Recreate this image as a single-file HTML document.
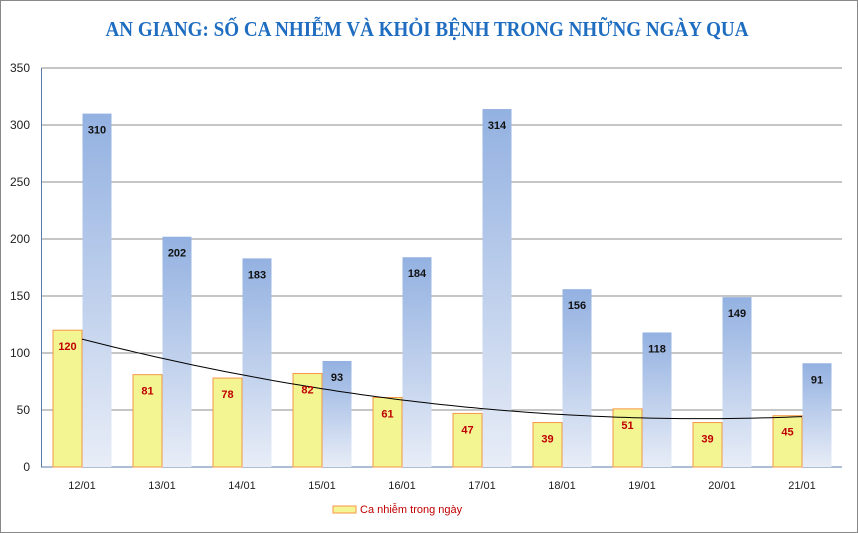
<!DOCTYPE html>
<html><head><meta charset="utf-8"><style>
body{margin:0;background:#fff;}
svg{display:block;font-family:"Liberation Sans",sans-serif;}
</style></head><body>
<svg id="c" width="858" height="533">
<defs><linearGradient id="bg" x1="0" y1="0" x2="0" y2="1"><stop offset="0" stop-color="#93b1e1"/><stop offset="1" stop-color="#e8edf7"/></linearGradient></defs>
<rect x="0.5" y="0.5" width="857" height="532" fill="#fff" stroke="#888"/>
<text x="427" y="36" text-anchor="middle" font-family="Liberation Serif,serif" font-weight="bold" font-size="21" fill="#1f6dc0" textLength="643" lengthAdjust="spacingAndGlyphs">AN GIANG: SỐ CA NHIỄM VÀ KHỎI BỆNH TRONG NHỮNG NGÀY QUA</text>
<g id="grid"></g><g id="bars"></g><g id="trend"></g><g id="labels"></g>
<g>
<rect x="333" y="506" width="23" height="7" fill="#f3f596" stroke="#f79646"/>
<text x="360" y="513" font-size="11" fill="#c00000">Ca nhiễm trong ngày</text>
</g>
</svg>
<script>
const categories=["12/01","13/01","14/01","15/01","16/01","17/01","18/01","19/01","20/01","21/01"];
const infected=[120,81,78,82,61,47,39,51,39,45];
const recovered=[310,202,183,93,184,314,156,118,149,91];
const yTicks=[0,50,100,150,200,250,300,350];
const NS="http://www.w3.org/2000/svg";
const x0=41.5,step=80,y0=467,k=399/350;
const y=v=>y0-v*k, xc=i=>x0+step*i+40.5;
function el(t,a,p){const e=document.createElementNS(NS,t);for(const q in a)e.setAttribute(q,a[q]);document.getElementById(p).appendChild(e);return e;}
yTicks.forEach(v=>{
 if(v>0){const l=el('line',{x1:x0,x2:842,y1:y(v),y2:y(v),stroke:'#8c8c8c'},'grid');
 
 }
 const t=el('text',{x:30,y:y(v)+4,'text-anchor':'end','font-size':12,fill:'#222'},'grid');t.textContent=v;
 
 
});
const ax=el('path',{d:`M${x0} 68V${y0}H842`,fill:'none',stroke:'#5a7ca8'},'grid');


categories.forEach((c,i)=>{
 const cx=xc(i);
 const b=el('rect',{x:cx+0.5,y:y(recovered[i]),width:29,height:recovered[i]*k,fill:'url(#bg)'},'bars');
 
 
 const a=el('rect',{x:cx-29,y:y(infected[i]),width:29,height:infected[i]*k,fill:'#f2f591',stroke:'#f79646'},'bars');
 
 
 const t1=el('text',{x:cx-14.5,y:y(infected[i])+20,'text-anchor':'middle','font-size':11,'font-weight':'bold',fill:'#c00000'},'labels');t1.textContent=infected[i];
 
 
 const t2=el('text',{x:cx+15,y:y(recovered[i])+20,'text-anchor':'middle','font-size':11,'font-weight':'bold',fill:'#111'},'labels');t2.textContent=recovered[i];
 
 
 const t3=el('text',{x:cx,y:489,'text-anchor':'middle','font-size':11,fill:'#222'},'labels');t3.textContent=c;
 
 
});
// quadratic trendline fit to infected
(function(){const n=infected.length;let S=[0,0,0,0,0],T=[0,0,0];
for(let i=0;i<n;i++){for(let p=0;p<5;p++)S[p]+=Math.pow(i,p);for(let p=0;p<3;p++)T[p]+=infected[i]*Math.pow(i,p);}
const M=[[S[0],S[1],S[2],T[0]],[S[1],S[2],S[3],T[1]],[S[2],S[3],S[4],T[2]]];
for(let c=0;c<3;c++){for(let r=c+1;r<3;r++){const f=M[r][c]/M[c][c];for(let j=c;j<4;j++)M[r][j]-=f*M[c][j];}}
const co=[0,0,0];for(let r=2;r>=0;r--){let s=M[r][3];for(let j=r+1;j<3;j++)s-=M[r][j]*co[j];co[r]=s/M[r][r];}
let d='';for(let s=0;s<=90;s++){const t=s/10;const v=co[0]+co[1]*t+co[2]*t*t;d+=(s?'L':'M')+(xc(0)+t*step).toFixed(1)+' '+y(v).toFixed(1);}
const p=el('path',{d:d,fill:'none',stroke:'#000','stroke-width':1},'trend');

})();
</script>
</body></html>
